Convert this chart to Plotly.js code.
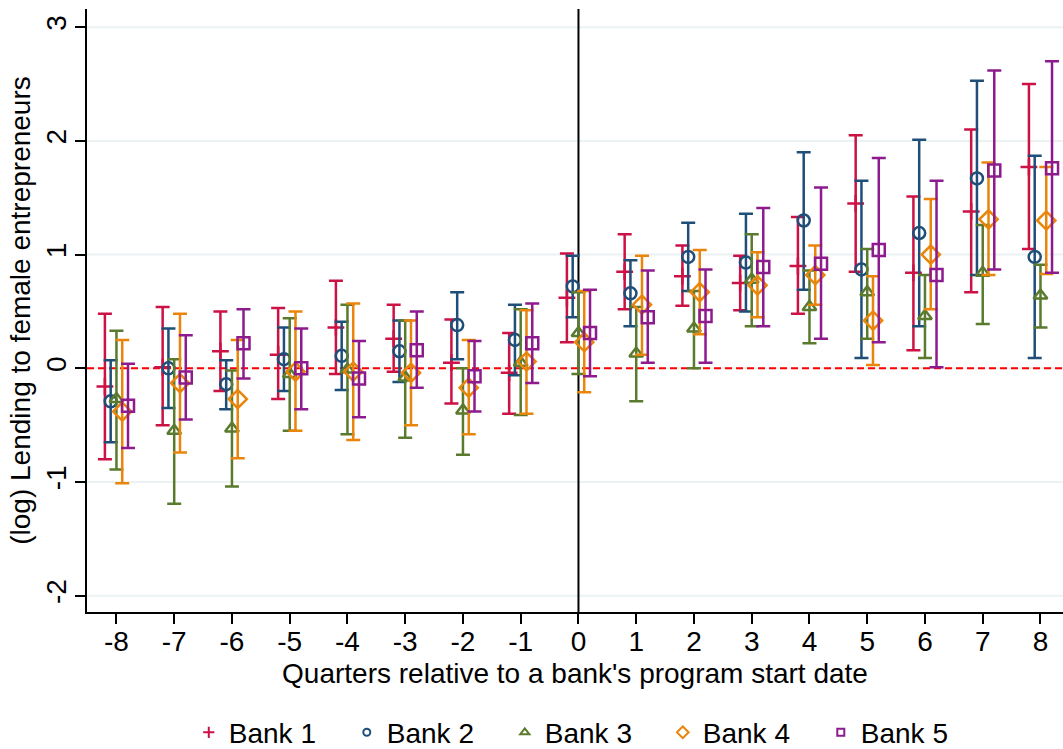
<!DOCTYPE html>
<html>
<head>
<meta charset="utf-8">
<script src="https://cdn.plot.ly/plotly-3.0.1.min.js"></script>
<style>
  html, body { margin: 0; padding: 0; background: #ffffff; }
  #chart { width: 1063px; height: 749px; }
</style>
</head>
<body>
<div id="chart"></div>
<script>
// ---- Data ----
const quarters = [-8, -7, -6, -5, -4, -3, -2, -1, 0, 1, 2, 3, 4, 5, 6, 7, 8];
const bankNames = ["Bank 1", "Bank 2", "Bank 3", "Bank 4", "Bank 5"];

const bank1Est   = [-0.16, 0.01, 0.15, 0.12, 0.36, 0.26, 0.05, -0.04, 0.62, 0.85, 0.81, 0.75, 0.90, 1.45, 0.84, 1.38, 1.77];
const bank1Lower = [-0.80, -0.50, -0.20, -0.27, -0.05, -0.03, -0.31, -0.40, 0.23, 0.52, 0.55, 0.51, 0.48, 0.85, 0.16, 0.67, 1.05];
const bank1Upper = [0.48, 0.54, 0.50, 0.53, 0.77, 0.56, 0.43, 0.31, 1.01, 1.18, 1.08, 0.99, 1.33, 2.05, 1.51, 2.10, 2.50];

const bank2Est   = [-0.29, 0.00, -0.14, 0.08, 0.11, 0.15, 0.38, 0.25, 0.72, 0.66, 0.98, 0.93, 1.30, 0.87, 1.19, 1.67, 0.98];
const bank2Lower = [-0.65, -0.35, -0.36, -0.20, -0.19, -0.12, 0.08, -0.06, 0.45, 0.37, 0.68, 0.50, 0.69, 0.09, 0.37, 0.82, 0.09];
const bank2Upper = [0.07, 0.35, 0.07, 0.36, 0.41, 0.42, 0.67, 0.56, 0.99, 0.95, 1.28, 1.36, 1.90, 1.65, 2.01, 2.53, 1.87];

const bank3Est   = [-0.27, -0.55, -0.53, -0.05, -0.01, -0.08, -0.37, 0.05, 0.31, 0.13, 0.35, 0.78, 0.54, 0.67, 0.46, 0.84, 0.64];
const bank3Lower = [-0.89, -1.19, -1.04, -0.55, -0.58, -0.61, -0.76, -0.41, -0.05, -0.29, 0.00, 0.37, 0.22, 0.26, 0.09, 0.39, 0.36];
const bank3Upper = [0.33, 0.08, -0.02, 0.44, 0.56, 0.42, 0.00, 0.52, 0.67, 0.54, 0.68, 1.18, 0.86, 1.05, 0.82, 1.26, 0.91];

const bank4Est   = [-0.38, -0.13, -0.27, -0.03, -0.03, -0.04, -0.17, 0.06, 0.23, 0.56, 0.67, 0.73, 0.82, 0.42, 1.00, 1.31, 1.30];
const bank4Lower = [-1.01, -0.74, -0.79, -0.55, -0.63, -0.50, -0.58, -0.40, -0.21, 0.12, 0.30, 0.45, 0.56, 0.03, 0.52, 0.82, 0.83];
const bank4Upper = [0.25, 0.48, 0.25, 0.50, 0.57, 0.42, 0.25, 0.51, 0.68, 0.99, 1.04, 1.02, 1.08, 0.81, 1.49, 1.81, 1.77];

const bank5Est   = [-0.33, -0.08, 0.22, 0.00, -0.09, 0.16, -0.07, 0.22, 0.31, 0.45, 0.46, 0.89, 0.92, 1.04, 0.82, 1.74, 1.76];
const bank5Lower = [-0.70, -0.45, -0.09, -0.36, -0.43, -0.17, -0.38, -0.13, -0.07, 0.05, 0.05, 0.37, 0.26, 0.23, 0.01, 0.87, 0.84];
const bank5Upper = [0.04, 0.29, 0.52, 0.35, 0.24, 0.50, 0.24, 0.57, 0.69, 0.86, 0.87, 1.41, 1.59, 1.85, 1.65, 2.62, 2.70];

const yTickVals = [-2, -1, 0, 1, 2, 3];
const xTitle = "Quarters relative to a bank's program start date";
const yTitle = "(log) Lending to female entrepreneurs";

// ---- Styles ----
const colors  = ["#cc1144", "#1f4e79", "#5a7a2e", "#e8850a", "#8e1b8e"];
const symbols = ["cross-thin", "circle-open", "triangle-up-open", "diamond-open", "square-open"];
const sizes   = [12, 12, 12, 14, 12];
const legendSizes = [8, 7, 8, 9, 7];
const offsets = [-0.2, -0.1, 0, 0.1, 0.2];

const ests   = [bank1Est, bank2Est, bank3Est, bank4Est, bank5Est];
const lowers = [bank1Lower, bank2Lower, bank3Lower, bank4Lower, bank5Lower];
const uppers = [bank1Upper, bank2Upper, bank3Upper, bank4Upper, bank5Upper];

const FONT = "Liberation Sans, Arial, sans-serif";
const traces = [];

bankNames.forEach((name, i) => {
  const est = ests[i];
  traces.push({
    type: "scatter",
    mode: "markers",
    name: name,
    legendgroup: name,
    showlegend: false,
    x: quarters.map(q => q + offsets[i]),
    y: est,
    error_y: {
      type: "data",
      symmetric: false,
      array: uppers[i].map((u, k) => u - est[k]),
      arrayminus: lowers[i].map((l, k) => est[k] - l),
      color: colors[i],
      thickness: 2.5,
      width: 7
    },
    marker: {
      symbol: symbols[i],
      size: sizes[i],
      color: colors[i],
      line: { color: colors[i], width: 2.5 }
    },
    hoverinfo: "x+y+name"
  });
});

// legend-only entries with the small legend markers of the reference
bankNames.forEach((name, i) => {
  traces.push({
    type: "scatter",
    mode: "markers",
    name: name,
    legendgroup: name,
    showlegend: true,
    x: [null],
    y: [null],
    marker: {
      symbol: symbols[i],
      size: legendSizes[i],
      color: colors[i],
      line: { color: colors[i], width: 2 }
    }
  });
});

// horizontal grid lines (drawn as shapes so the red reference line sits above them)
const gridShapes = yTickVals.map(v => ({
  type: "line", xref: "paper", yref: "y",
  x0: 0, x1: 1, y0: v, y1: v,
  line: { color: "#eaf2f3", width: 2 },
  layer: "below"
}));

const layout = {
  width: 1063,
  height: 749,
  margin: { l: 87, r: 0, t: 9, b: 137, autoexpand: false },
  paper_bgcolor: "#ffffff",
  plot_bgcolor: "#ffffff",
  font: { family: FONT, size: 28, color: "#000000" },
  showlegend: true,
  legend: {
    orientation: "h",
    x: 0.509,
    xanchor: "center",
    y: -0.2,
    yanchor: "middle",
    font: { family: FONT, size: 28, color: "#000000" },
    entrywidth: 113,
    entrywidthmode: "pixels",
    itemclick: "toggle",
    tracegroupgap: 0
  },
  xaxis: {
    range: [-8.51, 8.39],
    tickmode: "array",
    tickvals: quarters,
    ticktext: quarters.map(String),
    ticks: "outside",
    ticklen: 10,
    tickwidth: 1.5,
    tickcolor: "#000000",
    ticklabelstandoff: -6,
    showline: true,
    linecolor: "#000000",
    linewidth: 1.5,
    showgrid: false,
    zeroline: false,
    automargin: false,
    tickfont: { family: FONT, size: 28, color: "#000000" },
    title: { text: xTitle, font: { family: FONT, size: 28, color: "#000000" }, standoff: 7 }
  },
  yaxis: {
    range: [-2.143, 3.16],
    tickmode: "array",
    tickvals: yTickVals,
    ticktext: yTickVals.map(String),
    tickangle: -90,
    ticks: "outside",
    ticklen: 10,
    tickwidth: 1.5,
    tickcolor: "#000000",
    ticklabelstandoff: -2,
    showline: true,
    linecolor: "#000000",
    linewidth: 1.5,
    showgrid: false,
    zeroline: false,
    automargin: false,
    tickfont: { family: FONT, size: 28, color: "#000000" },
    title: { text: yTitle, font: { family: FONT, size: 28, color: "#000000" }, standoff: 2 }
  },
  shapes: gridShapes.concat([
    {
      type: "line", xref: "paper", yref: "y",
      x0: 0, x1: 1, y0: 0, y1: 0,
      line: { color: "#ff0000", width: 2, dash: "7px,4px" },
      layer: "below"
    },
    {
      type: "line", xref: "x", yref: "paper",
      x0: 0, x1: 0, y0: 0, y1: 1,
      line: { color: "#000000", width: 2 },
      layer: "below"
    }
  ])
};

Plotly.newPlot("chart", traces, layout, { displayModeBar: false, staticPlot: false });
</script>
</body>
</html>
